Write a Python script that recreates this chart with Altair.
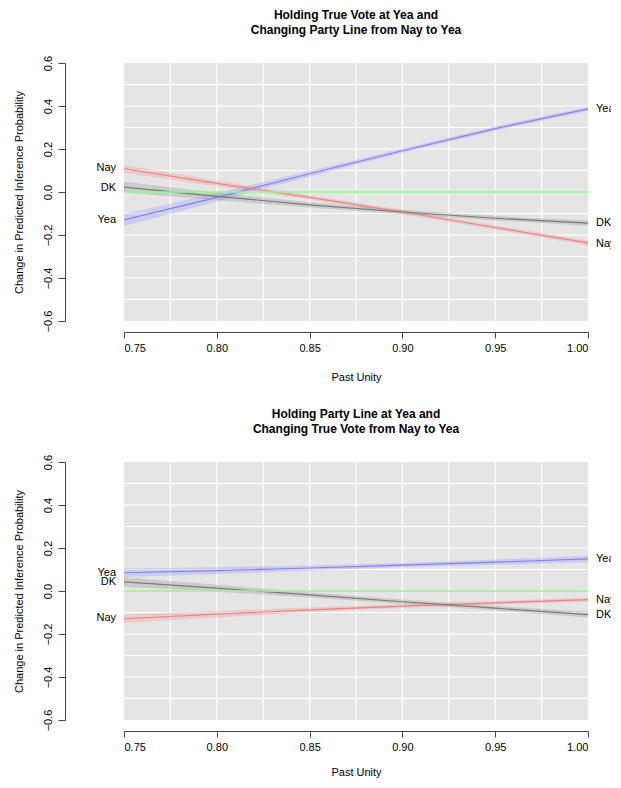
import altair as alt
import pandas as pd

FONT = "Liberation Sans"

past_unity = [0.75, 0.80, 0.85, 0.90, 0.95, 1.00]
series_names = ["Yea", "Nay", "DK"]
series_colors = ["#8080ff", "#f08080", "#7a7a7a"]
zero_color = "#80ff80"

# Panel 1: Holding True Vote at Yea, changing Party Line
p1_yea = [-0.130, -0.025, 0.085, 0.192, 0.295, 0.387]
p1_nay = [0.108, 0.040, -0.025, -0.093, -0.165, -0.237]
p1_dk = [0.023, -0.020, -0.060, -0.093, -0.122, -0.145]
p1_yea_hw = [0.028, 0.020, 0.013, 0.010, 0.010, 0.010]
p1_nay_hw = [0.018, 0.013, 0.010, 0.010, 0.010, 0.012]
p1_dk_hw = [0.025, 0.017, 0.012, 0.010, 0.010, 0.012]

# Panel 2: Holding Party Line at Yea, changing True Vote
p2_yea = [0.085, 0.095, 0.107, 0.120, 0.134, 0.149]
p2_nay = [-0.129, -0.108, -0.088, -0.070, -0.055, -0.040]
p2_dk = [0.042, 0.013, -0.018, -0.050, -0.080, -0.110]
p2_yea_hw = [0.020, 0.016, 0.012, 0.010, 0.012, 0.015]
p2_nay_hw = [0.020, 0.015, 0.011, 0.009, 0.009, 0.010]
p2_dk_hw = [0.022, 0.016, 0.012, 0.010, 0.011, 0.013]

zero_line = [0.0, 0.0]

grid_x = [0.775, 0.800, 0.825, 0.850, 0.875, 0.900, 0.925, 0.950, 0.975]
grid_y = [-0.5, -0.4, -0.3, -0.2, -0.1, 0.0, 0.1, 0.2, 0.3, 0.4, 0.5]
x_ticks = [0.75, 0.80, 0.85, 0.90, 0.95, 1.00]
y_ticks = [-0.6, -0.4, -0.2, 0.0, 0.2, 0.4, 0.6]

title1 = ["Holding True Vote at Yea and", "Changing Party Line from Nay to Yea"]
title2 = ["Holding Party Line at Yea and", "Changing True Vote from Nay to Yea"]

# label positions (Yea, Nay, DK)
p1_left_labels = [-0.13, 0.11, 0.02]
p1_right_labels = [0.385, -0.24, -0.145]
p2_left_labels = [0.085, -0.125, 0.04]
p2_right_labels = [0.148, -0.04, -0.11]

W, H = 464, 258

x_scale = alt.Scale(domain=[0.75, 1.0], nice=False, zero=False)
y_scale = alt.Scale(domain=[-0.6, 0.6], nice=False, zero=False)
color_scale = alt.Scale(domain=series_names, range=series_colors)

y_axis = alt.Axis(values=y_ticks, format=".1f", offset=59, tickSize=7, labelPadding=5,
                  labelAngle=-90, labelAlign="center", labelBaseline="bottom",
                  title="Change in Predicted Inference Probability", titlePadding=18, grid=False)


def panel(title, yea, nay, dk, yea_hw, nay_hw, dk_hw, left_y, right_y, x_title_pad):
    x_axis = alt.Axis(values=x_ticks, format=".2f", offset=11, tickSize=6, labelPadding=4,
                      title="Past Unity", titlePadding=x_title_pad, grid=False)

    def X(field):
        return alt.X(field, type="quantitative", scale=x_scale, axis=x_axis)

    def Y(field):
        return alt.Y(field, type="quantitative", scale=y_scale, axis=y_axis)

    rows = []
    for name, vals, hws in [("Yea", yea, yea_hw), ("Nay", nay, nay_hw), ("DK", dk, dk_hw)]:
        for xv, v, h in zip(past_unity, vals, hws):
            rows.append({"x": xv, "y": v, "lo": v - h, "hi": v + h, "series": name})
    df = pd.DataFrame(rows)

    gx = alt.Chart(pd.DataFrame({"x": grid_x})).mark_rule(color="white", strokeWidth=1.2).encode(x=X("x"))
    gy = alt.Chart(pd.DataFrame({"y": grid_y})).mark_rule(color="white", strokeWidth=1.2).encode(y=Y("y"))

    color = alt.Color("series:N", scale=color_scale, legend=None)
    bands = alt.Chart(df).mark_area(opacity=0.25).encode(
        x=X("x"), y=Y("lo"), y2="hi", color=color)
    lines = alt.Chart(df).mark_line(strokeWidth=1.2).encode(
        x=X("x"), y=Y("y"), color=color)

    zdf = pd.DataFrame({"x": [past_unity[0], past_unity[-1]], "y": zero_line})
    zero = alt.Chart(zdf).mark_line(color=zero_color, strokeWidth=1.5).encode(x=X("x"), y=Y("y"))

    left_df = pd.DataFrame({"x": [past_unity[0]] * 3, "y": left_y, "label": series_names})
    right_df = pd.DataFrame({"x": [past_unity[-1]] * 3, "y": right_y, "label": series_names})
    left_txt = alt.Chart(left_df).mark_text(align="right", baseline="middle", dx=-8, fontSize=11,
                                            font=FONT, color="black").encode(x=X("x"), y=Y("y"), text="label")
    right_txt = alt.Chart(right_df).mark_text(align="left", baseline="middle", dx=8, fontSize=11,
                                              font=FONT, color="black").encode(x=X("x"), y=Y("y"), text="label")

    return alt.layer(gx, gy, bands, lines, zero, left_txt, right_txt).properties(
        width=W, height=H,
        title=alt.TitleParams(title, font=FONT, fontSize=12, fontWeight="bold", anchor="middle",
                              offset=18, lineHeight=15, color="black"),
    )


chart = alt.vconcat(
    panel(title1, p1_yea, p1_nay, p1_dk, p1_yea_hw, p1_nay_hw, p1_dk_hw,
          p1_left_labels, p1_right_labels, 18),
    panel(title2, p2_yea, p2_nay, p2_dk, p2_yea_hw, p2_nay_hw, p2_dk_hw,
          p2_left_labels, p2_right_labels, 14),
    spacing=26,
).properties(
    padding={"left": 5, "top": 1, "right": -5, "bottom": 2},
).configure_view(
    fill="#e5e5e5", stroke=None,
).configure_axis(
    labelFont=FONT, titleFont=FONT, labelFontSize=11, titleFontSize=11,
    labelColor="black", titleColor="black", domainColor="#444", tickColor="#444",
    titleFontWeight="normal",
)

chart.save("out.html", embed_options={"renderer": "svg", "actions": False})
